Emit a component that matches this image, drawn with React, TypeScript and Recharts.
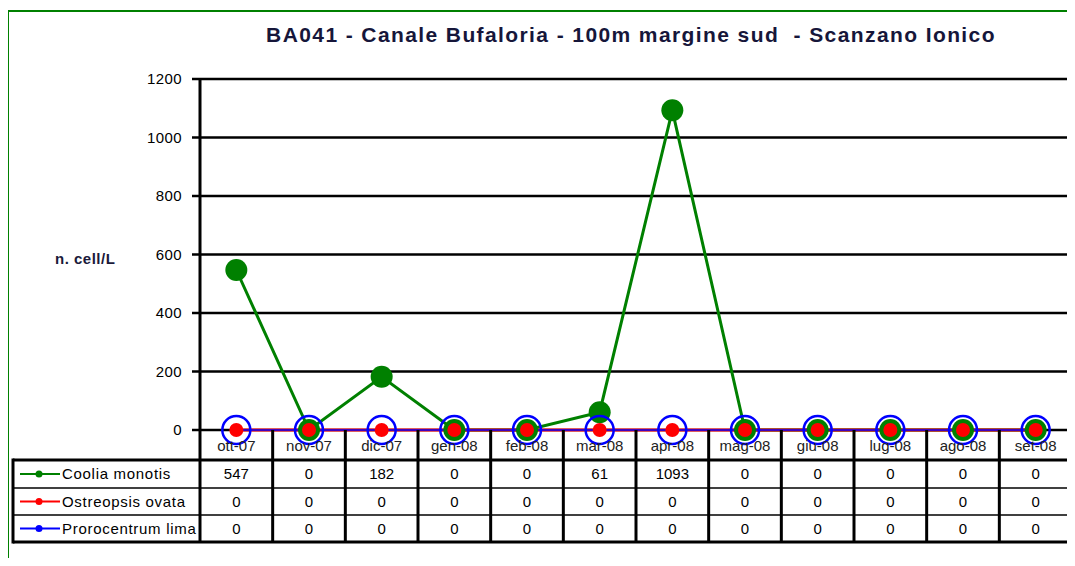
import { LineChart, Line, XAxis, YAxis, CartesianGrid } from 'recharts';

const MONTHS = ['ott-07', 'nov-07', 'dic-07', 'gen-08', 'feb-08', 'mar-08', 'apr-08', 'mag-08', 'giu-08', 'lug-08', 'ago-08', 'set-08'];
const COOLIA = [547, 0, 182, 0, 0, 61, 1093, 0, 0, 0, 0, 0];
const OSTREOPSIS = [0, 0, 0, 0, 0, 0, 0, 0, 0, 0, 0, 0];
const PROROCENTRUM = [0, 0, 0, 0, 0, 0, 0, 0, 0, 0, 0, 0];
const Y_TICKS = [0, 200, 400, 600, 800, 1000, 1200];

const SERIES = [
  { key: 'coolia', name: 'Coolia monotis', values: COOLIA, color: '#008000' },
  { key: 'ostreopsis', name: 'Ostreopsis ovata', values: OSTREOPSIS, color: '#ff0000' },
  { key: 'prorocentrum', name: 'Prorocentrum lima', values: PROROCENTRUM, color: '#0000ff' },
];

const FONT = '"Liberation Sans", Arial, sans-serif';
const W = 1067;
const H = 550;
const Y_AXIS_W = 192;
const MARGIN = { top: 71, right: 3, bottom: 0, left: 0 };
const COL_W = (W - Y_AXIS_W - MARGIN.right) / MONTHS.length;
const TABLE_LEFT = 5;
const TABLE_RIGHT = W - MARGIN.right;
// row boundaries below the x axis
const ROWS = [0, 30, 58, 85, 112];

const data = MONTHS.map((m, i) => ({
  month: m,
  coolia: COOLIA[i],
  ostreopsis: OSTREOPSIS[i],
  prorocentrum: PROROCENTRUM[i],
}));

// the data table under the chart is drawn as the x axis ticks
function TableTick(props: any) {
  const { x, y } = props;
  const index = props.index ?? props.payload?.index ?? 0;
  const left = x - COL_W / 2;
  const right = x + COL_W / 2;
  const txt = { fontFamily: FONT, fontSize: 15, fill: '#000', textAnchor: 'middle' as const };

  return (
    <g>
      <line x1={left} x2={left} y1={y} y2={y + ROWS[4]} stroke="#000" strokeWidth={3} />
      {index === MONTHS.length - 1 && (
        <line x1={right} x2={right} y1={y} y2={y + ROWS[4] + 1.5} stroke="#000" strokeWidth={3} />
      )}
      <text x={x} y={y + 21} {...txt} fill="#222">{props.payload.value}</text>
      {SERIES.map((s, r) => (
        <text key={s.key} x={x} y={y + ROWS[r + 1] + 19} {...txt}>{s.values[index]}</text>
      ))}
      {index === 0 && (
        <g>
          <line x1={TABLE_LEFT} x2={TABLE_LEFT} y1={y + ROWS[1] - 1.5} y2={y + ROWS[4] + 1.5} stroke="#000" strokeWidth={3} />
          <line x1={TABLE_LEFT} x2={TABLE_RIGHT + 1.5} y1={y + ROWS[1]} y2={y + ROWS[1]} stroke="#000" strokeWidth={3} />
          <line x1={TABLE_LEFT} x2={TABLE_RIGHT} y1={y + ROWS[2]} y2={y + ROWS[2]} stroke="#000" strokeWidth={1.5} />
          <line x1={TABLE_LEFT} x2={TABLE_RIGHT} y1={y + ROWS[3]} y2={y + ROWS[3]} stroke="#000" strokeWidth={1.5} />
          <line x1={TABLE_LEFT} x2={TABLE_RIGHT + 1.5} y1={y + ROWS[4]} y2={y + ROWS[4]} stroke="#000" strokeWidth={3} />
          {SERIES.map((s, r) => {
            const cy = y + (ROWS[r + 1] + ROWS[r + 2]) / 2;
            return (
              <g key={s.key}>
                <line x1={12} x2={52} y1={cy} y2={cy} stroke={s.color} strokeWidth={2} />
                <circle cx={31} cy={cy} r={3.5} fill={s.color} />
                <text x={54} y={cy + 5} fontFamily={FONT} fontSize={15} letterSpacing={0.7} fill="#000">{s.name}</text>
              </g>
            );
          })}
        </g>
      )}
    </g>
  );
}

export default function App() {
  return (
    <div style={{ position: 'relative', width: W, height: H, fontFamily: FONT }}>
      <div
        style={{
          position: 'absolute', left: -1, top: 2, width: W + 1, height: H - 2,
          boxSizing: 'border-box', borderTop: '2px solid #008000', borderLeft: '2px solid #008000',
        }}
      />
      <div
        style={{
          position: 'absolute', left: 0, top: 16, width: 1246, textAlign: 'center',
          fontSize: 21, lineHeight: '21px', fontWeight: 'bold', letterSpacing: 1.4, color: '#16163a',
          whiteSpace: 'pre',
        }}
      >
        {'BA041 - Canale Bufaloria - 100m margine sud  - Scanzano Ionico'}
      </div>
      <div
        style={{
          position: 'absolute', left: 47, top: 243, fontSize: 15, lineHeight: '15px',
          fontWeight: 'bold', letterSpacing: 0.5, color: '#1a1a3a',
        }}
      >
        n. cell/L
      </div>
      <LineChart width={W} height={H} data={data} margin={MARGIN}>
        <CartesianGrid horizontal vertical={false} stroke="#000" strokeWidth={2.5} />
        <XAxis
          dataKey="month"
          scale="band"
          interval={0}
          height={H - MARGIN.top - 351}
          tickSize={0}
          tickMargin={0}
          tickLine={false}
          axisLine={false}
          tick={<TableTick />}
        />
        <YAxis
          width={Y_AXIS_W}
          domain={[0, 1200]}
          ticks={Y_TICKS}
          interval={0}
          tickSize={8}
          tickMargin={10}
          axisLine={{ stroke: '#000', strokeWidth: 3 }}
          tickLine={{ stroke: '#000', strokeWidth: 2.5 }}
          tick={{ fill: '#000', fontSize: 15, fontFamily: FONT, letterSpacing: 0.4 }}
        />
        <Line
          dataKey="coolia"
          type="linear"
          stroke="#008000"
          strokeWidth={3}
          dot={{ r: 11, fill: '#008000', stroke: 'none' }}
          activeDot={false}
          isAnimationActive={false}
        />
        <Line
          dataKey="ostreopsis"
          type="linear"
          stroke="#ff0000"
          strokeWidth={3}
          dot={{ r: 7, fill: '#ff0000', stroke: 'none' }}
          activeDot={false}
          isAnimationActive={false}
        />
        <Line
          dataKey="prorocentrum"
          type="linear"
          stroke="#0000ff"
          strokeWidth={1.5}
          dot={{ r: 14, fill: 'none', stroke: '#0000ff', strokeWidth: 2.5 }}
          activeDot={false}
          isAnimationActive={false}
        />
      </LineChart>
    </div>
  );
}
